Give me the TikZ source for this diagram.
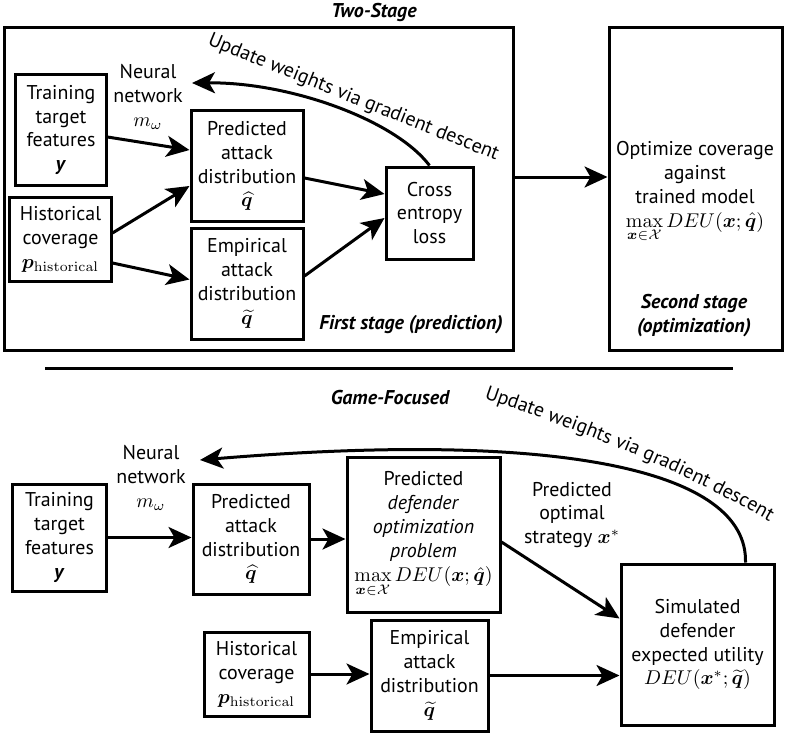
\documentclass[tikz,border=0pt]{standalone}
\usepackage{amsmath,amssymb,bm}
\usepackage[no-math]{fontspec}
\setmainfont{PT Sans}
\usepackage{tikz}
\usetikzlibrary{arrows.meta,calc,decorations.text}
\usetikzlibrary{positioning}

\begin{document}
\begin{tikzpicture}[x=0.5bp,y=-0.5bp,>={Stealth[length=11.5bp,width=10.5bp,inset=3bp]},
  box/.style={draw,line width=1.5bp,align=center,inner sep=1bp},
  lbl/.style={align=center,inner sep=1bp},
  ttl/.style={align=center,font=\bfseries\itshape,inner sep=1bp},
  flow/.style={->,line width=1.5bp},
  upd/.style={decorate,decoration={text along path,text align=left,text={Update weights via gradient descent}}}]
\useasboundingbox (0,0) rectangle (789,738);
% two-stage
\node[ttl] (twostage) at (374,12) {Two-Stage};
\node[box,minimum width=254bp,minimum height=161bp] (stageone) at (259,189) {};
\node[box,minimum width=86.5bp,minimum height=161bp] (stagetwo) at (695.5,189) {};
\node[box,minimum width=45bp,minimum height=55bp] (train1) at (61,130) {Training\\ target\\ features\\ \textbf{\textit{y}}};
\node[box,minimum width=50.5bp,minimum height=42bp] (hist1) at (60.5,239) {Historical\\ coverage\\ $\bm{p}_{\mathrm{historical}}$};
\node[box,minimum width=56bp,minimum height=55bp] (pred1) at (247,166) {Predicted\\ attack\\ distribution\\ $\widehat{\bm{q}}$};
\node[box,minimum width=56bp,minimum height=55.5bp] (emp1) at (247,283.5) {Empirical\\ attack\\ distribution\\ $\widetilde{\bm{q}}$};
\node[box,minimum width=43.5bp,minimum height=46bp] (cross1) at (429.5,213) {Cross\\ entropy\\ loss};
\node[lbl] (net1) at (148,97) {Neural\\ network\\ $m_\omega$};
\node[ttl] (firstcap) at (411,325) {First stage (prediction)};
\node[lbl] (optim) at (695,192) {Optimize coverage\\ against\\ trained model\\ $\max\limits_{\bm{x}\in\mathcal{X}} DEU(\bm{x};\hat{\bm{q}})$};
\node[ttl] (secondcap) at (694,316) {Second stage\\ (optimization)};
\coordinate (back1) at (192,83);
\draw[flow] ([yshift=-3.5bp]train1.east) -- ([yshift=8bp]pred1.west);
\draw[flow] ([yshift=3bp]hist1.east) -- ([yshift=-10bp]pred1.west);
\draw[flow] ([yshift=-12bp]hist1.east) -- ([yshift=2bp]emp1.west);
\draw[flow] ([yshift=-6bp]pred1.east) -- ([yshift=9.5bp]cross1.west);
\draw[flow] ([yshift=3.75bp]emp1.east) -- ([yshift=-2.5bp]cross1.west);
\draw[flow] (cross1.north) .. controls (395,120) and (290,82) .. (back1);
\path[upd] (207,44) .. controls (300,83) and (420,130) .. (540,178);
\draw[flow] ([yshift=6bp]stageone.east) -- ([yshift=6bp]stagetwo.west);
% separator
\draw[line width=1.5bp] (45,368) -- (733,368);
% game-focused
\node[ttl] (gamefocused) at (390,398) {Game-Focused};
\node[lbl] (net2) at (151,478) {Neural\\ network\\ $m_\omega$};
\node[box,minimum width=46.5bp,minimum height=53.5bp] (train2) at (59.5,537.5) {Training\\ target\\ features\\ \textbf{\textit{y}}};
\node[box,minimum width=58bp,minimum height=55bp] (pred2) at (251,539) {Predicted\\ attack\\ distribution\\ $\widehat{\bm{q}}$};
\node[box,minimum width=76.5bp,minimum height=77.5bp] (opt2) at (423.5,534.5) {Predicted\\ \textit{defender}\\ \textit{optimization}\\ \textit{problem}\\ $\max\limits_{\bm{x}\in\mathcal{X}} DEU(\bm{x};\hat{\bm{q}})$};
\node[box,minimum width=76.5bp,minimum height=80.5bp] (sim2) at (697.5,644.5) {Simulated\\ defender\\ expected utility\\ $DEU(\bm{x}^*;\widetilde{\bm{q}})$};
\node[box,minimum width=52.5bp,minimum height=42bp] (hist2) at (256.5,674) {Historical\\ coverage\\ $\bm{p}_{\mathrm{historical}}$};
\node[box,minimum width=58.5bp,minimum height=55.5bp] (emp2) at (429.5,675.5) {Empirical\\ attack\\ distribution\\ $\widetilde{\bm{q}}$};
\node[lbl] (strat2) at (572,515) {Predicted\\ optimal\\ strategy $\bm{x}^*$};
\coordinate (back2) at (200,460);
\draw[flow] (train2.east) -- (train2.east -| pred2.west);
\draw[flow] (pred2.east) -- (pred2.east -| opt2.west);
\draw[flow] ([yshift=-3.75bp]opt2.east) -- ([yshift=13bp]sim2.west);
\draw[flow] (hist2.east) -- (hist2.east -| emp2.west);
\draw[flow] (emp2.east) -- (emp2.east -| sim2.west);
\draw[flow] ([xshift=24bp]sim2.north) .. controls (748,470) and (560,430) .. (back2);
\path[upd] (484,398) .. controls (570,428) and (685,468) .. (800,540);
\end{tikzpicture}
\end{document}
